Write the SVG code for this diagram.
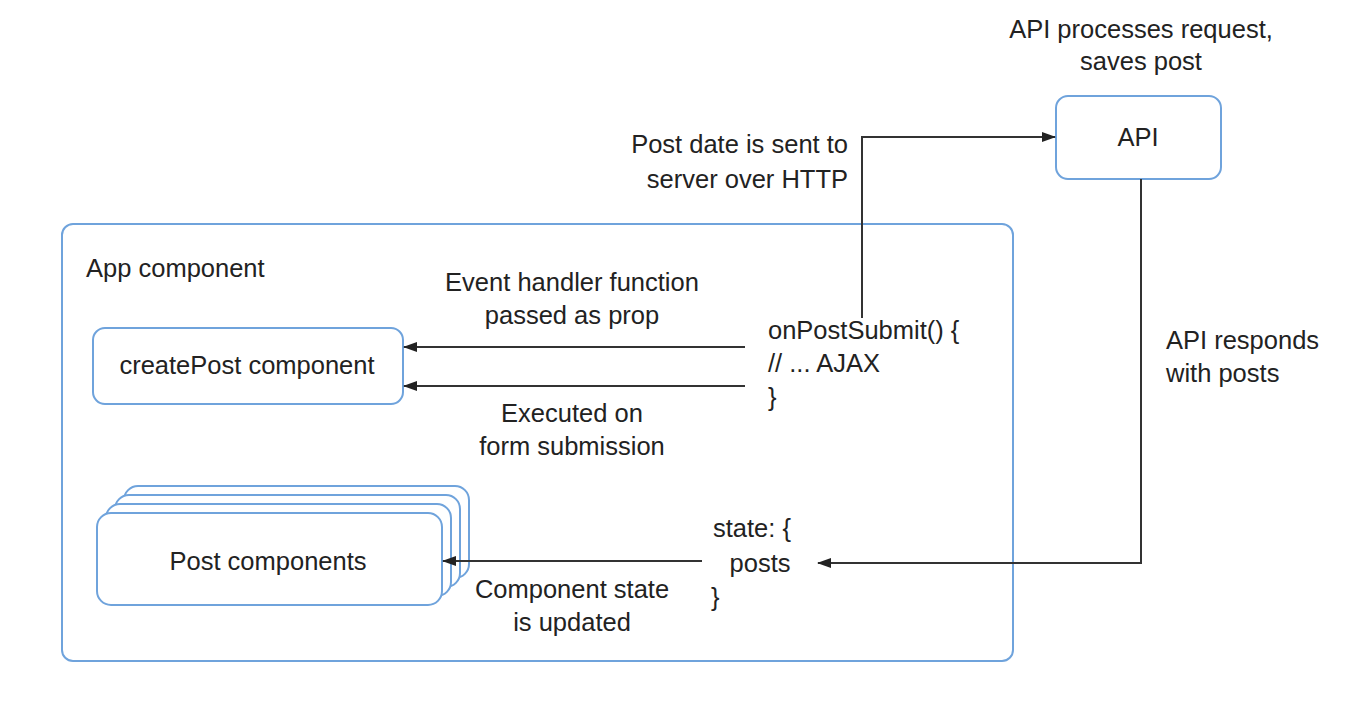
<svg xmlns="http://www.w3.org/2000/svg" width="1372" height="712" viewBox="0 0 1372 712">
<style>
.box{fill:#fff;stroke:#6fa3dc;stroke-width:2}
.t{font-family:"Liberation Sans",Arial,sans-serif;font-size:25.5px;fill:#222}
.m{text-anchor:middle}
.e{text-anchor:end}
.c{fill:none;stroke:#333;stroke-width:2}
</style>
<defs>
<marker id="ah" viewBox="0 0 14 10" refX="13" refY="5" markerWidth="14" markerHeight="10" markerUnits="userSpaceOnUse" orient="auto">
<path d="M0,0 L14,5 L0,10 Z" fill="#222"/>
</marker>
</defs>
<rect width="1372" height="712" fill="#fff"/>
<g id="app">
<rect class="box" x="62" y="224" width="951" height="437" rx="11"/>
<text class="t" x="86" y="277">App component</text>
</g>
<g id="createPost">
<rect class="box" x="93" y="328" width="310" height="76" rx="12"/>
<text class="t m" x="247" y="374">createPost component</text>
</g>
<g id="posts">
<rect class="box" x="124" y="486" width="345" height="92" rx="14"/>
<rect class="box" x="115" y="495" width="345" height="92" rx="14"/>
<rect class="box" x="106" y="504" width="345" height="92" rx="14"/>
<rect class="box" x="97" y="513" width="345" height="92" rx="14"/>
<text class="t m" x="268" y="570">Post components</text>
</g>
<g id="api">
<rect class="box" x="1056" y="96" width="165" height="83" rx="12"/>
<text class="t m" x="1138" y="146">API</text>
<text class="t m" x="1141" y="38">API processes request,</text>
<text class="t m" x="1141" y="70">saves post</text>
</g>
<g id="handler">
<text class="t" x="768" y="339">onPostSubmit() {</text>
<text class="t" x="768" y="372">// ... AJAX</text>
<text class="t" x="768" y="406">}</text>
</g>
<g id="state">
<text class="t m" x="752" y="537">state: {</text>
<text class="t m" x="760" y="572">posts</text>
<text class="t" x="711" y="606">}</text>
</g>
<g id="connectors">
<path class="c" d="M862,318 V137 H1055" marker-end="url(#ah)"/>
<path class="c" d="M1141,179 V563 H818" marker-end="url(#ah)"/>
<path class="c" d="M745,347 H404" marker-end="url(#ah)"/>
<path class="c" d="M745,386 H404" marker-end="url(#ah)"/>
<path class="c" d="M702,561 H443" marker-end="url(#ah)"/>
<text class="t e" x="848" y="153">Post date is sent to</text>
<text class="t e" x="848" y="188">server over HTTP</text>
<text class="t m" x="572" y="291">Event handler function</text>
<text class="t m" x="572" y="324">passed as prop</text>
<text class="t m" x="572" y="422">Executed on</text>
<text class="t m" x="572" y="455">form submission</text>
<text class="t" x="1166" y="349">API responds</text>
<text class="t" x="1166" y="382">with posts</text>
<text class="t m" x="572" y="598">Component state</text>
<text class="t m" x="572" y="631">is updated</text>
</g>
</svg>
